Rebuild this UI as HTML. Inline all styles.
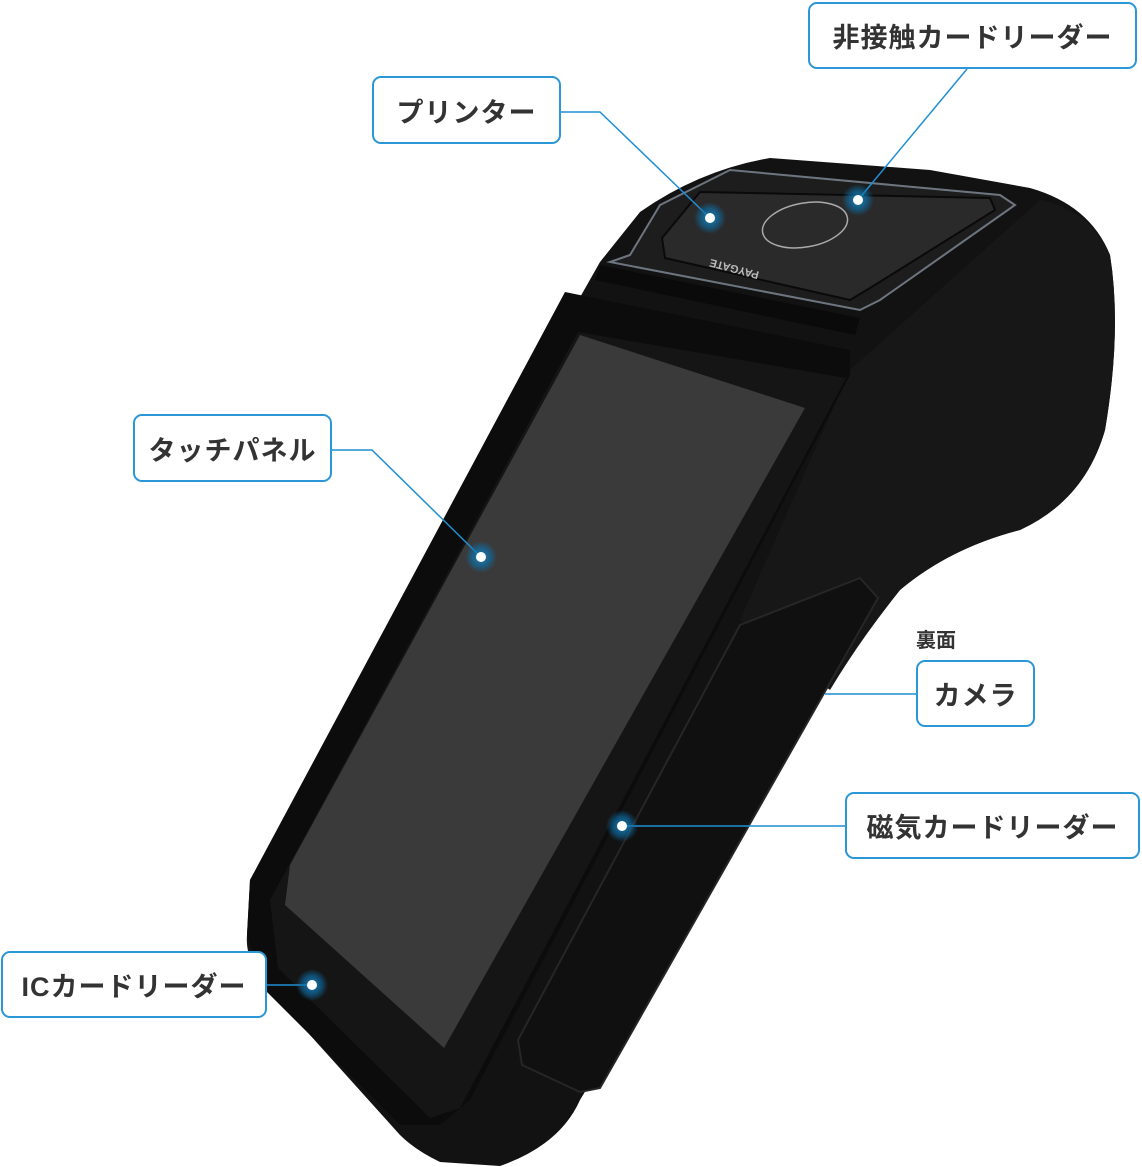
<!DOCTYPE html>
<html><head><meta charset="utf-8"><style>
html,body{margin:0;padding:0;background:#fff;}
body{width:1142px;height:1167px;position:relative;overflow:hidden;font-family:"Liberation Sans","Noto Sans CJK JP",sans-serif;}
.lb{position:absolute;box-sizing:border-box;border:2px solid #2b97d6;border-radius:9px;background:#fff;color:#333;font-weight:bold;font-size:27px;display:flex;align-items:center;justify-content:center;letter-spacing:1px;}
svg{position:absolute;left:0;top:0;}
</style></head><body>
<svg width="1142" height="1167" viewBox="0 0 1142 1167">
<defs>
<radialGradient id="gl"><stop offset="0" stop-color="#1a8fd0" stop-opacity="0.9"/><stop offset="0.6" stop-color="#0d6fa8" stop-opacity="0.6"/><stop offset="1" stop-color="#0d6fa8" stop-opacity="0"/></radialGradient>
</defs>
<path d="M600,262 L640,212 Q700,170 770,158 L930,170 L1030,188 Q1090,205 1110,255 Q1122,330 1105,430 Q1085,500 1020,530 Q950,548 900,590 Q860,640 820,700 L580,1100 Q560,1145 500,1166 L440,1162 Q415,1150 400,1135 L265,985 Q245,960 247,935 L250,880 Z" fill="#121212"/>
<path d="M850,370 L1040,200 Q1090,210 1110,255 Q1122,330 1105,430 Q1085,500 1020,530 Q950,548 900,590 Q860,640 830,690 L740,620 Z" fill="#171717"/>
<path d="M630,255 L660,205 L730,170 L1000,195 L1015,205 L880,300 L860,310 L610,262 Z" fill="#1d1d1d" stroke="#6d7580" stroke-width="2"/>
<path d="M662,238 L700,192 L990,198 L995,210 L870,288 L850,300 L665,258 Z" fill="#2a2a2a" stroke="#0a0a0a" stroke-width="2"/>
<ellipse cx="805" cy="225" rx="43" ry="22" fill="none" stroke="#aaa" stroke-width="1.5" transform="rotate(-10 805 225)"/>
<text x="730" y="268" fill="#bbb" font-size="11" font-weight="bold" transform="rotate(195 745 268)">PAYGATE</text>
<path d="M600,265 L860,318 L855,335 L595,280 Z" fill="#0a0a0a"/>
<path d="M565,292 L850,350 L850,375 L470,1100 L440,1125 L400,1125 L265,990 L247,935 L250,880 Z" fill="#0c0c0c"/>
<path d="M578,332 L846,378 L460,1108 L430,1118 L278,968 L270,900 Z" fill="#151515"/>
<path d="M580,335 L805,408 L444,1048 L285,905 L290,865 Z" fill="#3a3a3a"/>
<path d="M740,625 L860,578 L878,598 L600,1088 L580,1092 L522,1065 L518,1040 Z" fill="#101010" stroke="#262626" stroke-width="2"/>
<g stroke="#1f8fd3" stroke-width="1.5" fill="none">
<polyline points="967,69 858,200"/>
<polyline points="561,112 600,112 710,218"/>
<polyline points="332,450 372,450 481,557"/>
<polyline points="916,694 825,694"/>
<polyline points="845,826 622,826"/>
<polyline points="267,985 312,985"/>
</g>
<g>
<circle cx="858" cy="200" r="16" fill="url(#gl)"/><circle cx="858" cy="200" r="5" fill="#fff"/>
<circle cx="710" cy="218" r="16" fill="url(#gl)"/><circle cx="710" cy="218" r="5" fill="#fff"/>
<circle cx="481" cy="557" r="16" fill="url(#gl)"/><circle cx="481" cy="557" r="5" fill="#fff"/>
<circle cx="622" cy="826" r="16" fill="url(#gl)"/><circle cx="622" cy="826" r="5" fill="#fff"/>
<circle cx="312" cy="985" r="16" fill="url(#gl)"/><circle cx="312" cy="985" r="5" fill="#fff"/>
</g>
</svg>
<div class="lb" style="left:808px;top:2px;width:329px;height:67px;">非接触カードリーダー</div>
<div class="lb" style="left:372px;top:76px;width:189px;height:68px;">プリンター</div>
<div class="lb" style="left:133px;top:414px;width:199px;height:68px;">タッチパネル</div>
<div style="position:absolute;left:916px;top:624px;font-size:20px;color:#333;font-weight:bold;">裏面</div>
<div class="lb" style="left:916px;top:660px;width:119px;height:67px;">カメラ</div>
<div class="lb" style="left:845px;top:792px;width:295px;height:67px;">磁気カードリーダー</div>
<div class="lb" style="left:1px;top:951px;width:266px;height:67px;">ICカードリーダー</div>
</body></html>
